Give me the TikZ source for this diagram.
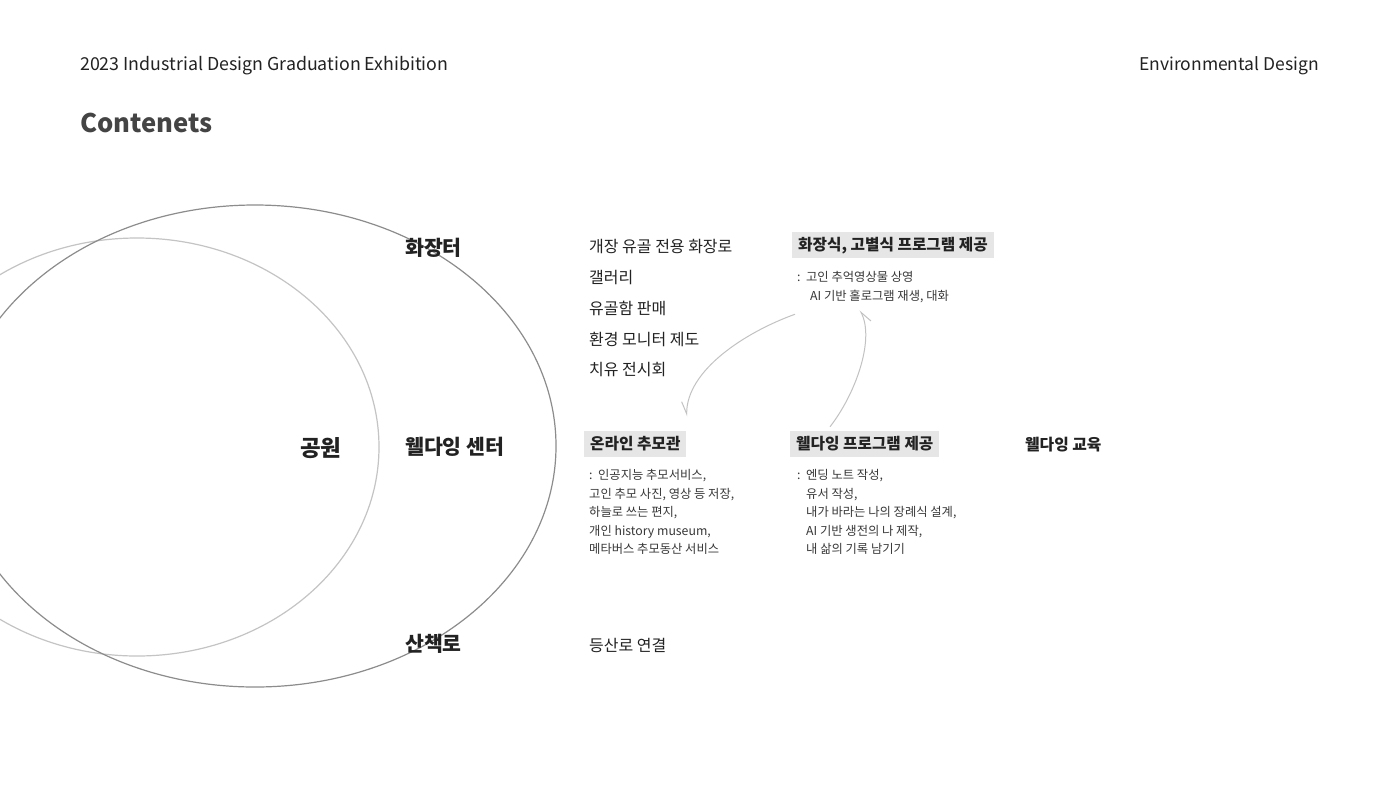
\documentclass[tikz,border=0pt]{standalone}
\usepackage{fontspec}
\setmainfont{Noto Sans CJK KR}
\usetikzlibrary{arrows.meta}
\definecolor{ink}{HTML}{222222}
\definecolor{titlegray}{HTML}{444444}
\definecolor{boxgray}{HTML}{E6E6E6}
\definecolor{ringdark}{HTML}{8C8C8C}
\definecolor{ringlight}{HTML}{C4C4C4}
\definecolor{arrowgray}{HTML}{C2C2C2}
\begin{document}
\begin{tikzpicture}[x=1pt,y=-1pt,
every node/.style={inner sep=0pt,text=ink},
place/.style={anchor=base west,font=\fontsize{20.5}{24}\selectfont\bfseries},
item/.style={anchor=base west,font=\fontsize{16}{19}\selectfont},
tagbox/.style={anchor=west,fill=boxgray,inner xsep=6pt,inner ysep=4.7pt,text height=13.8pt,text depth=1.9pt,font=\fontsize{15.7}{19}\selectfont\bfseries},
note/.style={anchor=base west,align=left,font=\fontsize{12.3}{18.5}\selectfont,text=ink!90},
flow/.style={draw=arrowgray,line width=1pt,-{Straight Barb[harpoon,swap,length=12pt,width=10pt]}},
]
\useasboundingbox[fill=white] (0,0) rectangle (1400,788);

% Park / well-dying center map
\draw[ringlight,line width=1.2pt] (137,447) ellipse [x radius=242pt,y radius=209pt];
\draw[ringdark,line width=1.2pt] (255,446) ellipse [x radius=301pt,y radius=241pt];

\node[anchor=base west,font=\fontsize{17.8}{21}\selectfont] (head) at (80,70.5) {2023 Industrial Design Graduation Exhibition};
\node[anchor=base east,font=\fontsize{17.5}{21}\selectfont] (dept) at (1319,70.5) {Environmental Design};
\node[anchor=base west,font=\fontsize{25.6}{30}\selectfont\bfseries,text=titlegray] (title) at (80,132.5) {Contenets};

\node[anchor=base west,font=\fontsize{22.5}{26}\selectfont\bfseries] (park) at (300,456) {공원};
\node[place] (crem) at (405,255.8) {화장터};
\node[place] (center) at (405,454.3) {웰다잉 센터};
\node[place] (trail) at (405,651.8) {산책로};

\node[item] (furnace) at (589,252.1) {개장 유골 전용 화장로};
\node[item] (gallery) at (589,283.1) {갤러리};
\node[item] (urn) at (589,314.1) {유골함 판매};
\node[item] (monitor) at (589,345.1) {환경 모니터 제도};
\node[item] (healing) at (589,375.1) {치유 전시회};
\node[item] (hiking) at (589,651.1) {등산로 연결};

\node[tagbox] (cremate) at (792,245) {화장식, 고별식 프로그램 제공};
\node[note] (cremdesc) at (797,300.2) {:\hspace{0.45em}고인 추억영상물 상영\\\hspace{13pt}AI 기반 홀로그램 재생, 대화};

\node[tagbox] (online) at (584,444) {온라인 추모관};
\node[note] (onlinedesc) at (589,553.7) {:\hspace{0.45em}인공지능 추모서비스,\\고인 추모 사진, 영상 등 저장,\\하늘로 쓰는 편지,\\개인 history museum,\\메타버스 추모동산 서비스};

\node[tagbox] (program) at (790,444) {웰다잉 프로그램 제공};
\node[note] (programdesc) at (797,553.7) {:\hspace{0.45em}엔딩 노트 작성,\\\hspace{9pt}유서 작성,\\\hspace{9pt}내가 바라는 나의 장례식 설계,\\\hspace{9pt}AI 기반 생전의 나 제작,\\\hspace{9pt}내 삶의 기록 남기기};

\node[anchor=base west,font=\fontsize{15.8}{19}\selectfont\bfseries] (edu) at (1025,450) {웰다잉 교육};

\draw[flow] ([xshift=3pt,yshift=-56.5pt]cremate.south west) .. controls +(-50,18) and +(0,-46) .. ([yshift=15pt]online.north east);
\draw[flow] ([xshift=40pt,yshift=4.5pt]program.north west) .. controls +(25,-32) and +(15,30) .. ([xshift=68pt,yshift=-52.5pt]cremate.south west);

\end{tikzpicture}
\end{document}
